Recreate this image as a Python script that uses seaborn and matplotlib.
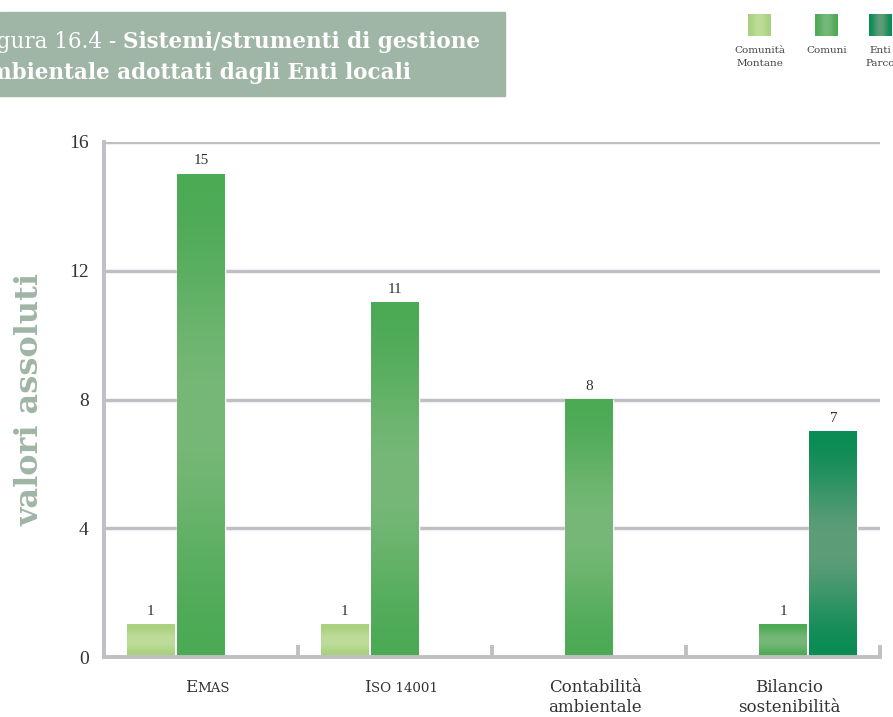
import numpy as np
import pandas as pd
import matplotlib
matplotlib.use("Agg")
import matplotlib.pyplot as plt
import seaborn as sns
from matplotlib import transforms
from matplotlib.colors import to_rgb
from matplotlib.patches import Rectangle

# ---- data -------------------------------------------------------------
categories = ["Emas", "Iso 14001", "Contabilità\nambientale", "Bilancio\nsostenibilità"]
smallcaps_labels = [True, True, False, False]
series = ["Comunità Montane", "Comuni", "Enti Parco"]
series_labels = ["Comunità\nMontane", "Comuni", "Enti\nParco"]
comunita_montane = [1, 1, 0, 0]
comuni = [15, 11, 8, 1]
enti_parco = [0, 0, 0, 7]
y_ticks = [0, 4, 8, 12, 16]

edge_colors = ["#a8d07e", "#4caa55", "#0b8c55"]
mid_colors = ["#bedc99", "#77b878", "#5f9d79"]
grid_color = "#c0c0c4"
band_color = "#9fb5a5"
text_color = "#333333"

df = pd.DataFrame({
    "categoria": categories * 3,
    "ente": np.repeat(series, len(categories)),
    "valore": comunita_montane + comuni + enti_parco,
})

# ---- figure -----------------------------------------------------------
W, H = 893, 717
sns.set_theme(style="white")
plt.rcParams["font.family"] = ["Liberation Serif", "DejaVu Serif"]

fig = plt.figure(figsize=(W / 100, H / 100), dpi=100)
ax = fig.add_axes([104 / W, 1 - 657 / H, (880 - 104) / W, (657 - 142) / H])

sns.barplot(data=df, x="categoria", y="valore", hue="ente",
            order=categories, hue_order=series, palette=edge_colors,
            saturation=1, width=0.78, gap=0.05, legend=False, ax=ax)


def gradient(c_edge, c_mid, n=200, horizontal=False):
    t = np.linspace(0, 1, n)
    w = np.sin(np.pi * t) ** 2
    e, m = np.array(to_rgb(c_edge)), np.array(to_rgb(c_mid))
    cols = e[None, :] + (m - e)[None, :] * w[:, None]
    return cols[None, :, :] if horizontal else cols[:, None, :]


# shaded fill for every bar, laid exactly over the bar rectangle
for i, container in enumerate(ax.containers):
    for bar in container:
        h = bar.get_height()
        if h <= 0:
            continue
        x, w = bar.get_x(), bar.get_width()
        ax.imshow(gradient(edge_colors[i], mid_colors[i]),
                  extent=[x, x + w, 0, h], aspect="auto",
                  interpolation="bilinear", zorder=bar.get_zorder() + 0.1)
    ax.bar_label(container,
                 labels=[f"{v:g}" if v > 0 else "" for v in container.datavalues],
                 padding=5, fontsize=11, color=text_color)

ax.set_xlim(-0.5, len(categories) - 0.5)
ax.set_ylim(0, 16)
ax.set_yticks(y_ticks)
ax.set_yticklabels([str(v) for v in y_ticks], fontsize=14, color=text_color)
ax.tick_params(axis="y", length=0, pad=11)
ax.set_xticks(range(len(categories)))
ax.set_xticklabels([""] * len(categories))
ax.set_xticks(np.arange(len(categories)) + 0.5, minor=True)
ax.tick_params(axis="x", which="major", length=0)
ax.tick_params(axis="x", which="minor", bottom=True, direction="in",
               length=9, width=2.8, color=grid_color)
ax.set_xlabel("")
ax.set_ylabel("")
ax.set_axisbelow(True)
ax.yaxis.grid(True, color=grid_color, linewidth=2.5)
ax.xaxis.grid(False)
for side in ["top", "right"]:
    ax.spines[side].set_visible(False)
for side in ["left", "bottom"]:
    ax.spines[side].set_color(grid_color)
    ax.spines[side].set_linewidth(2.8)

renderer = fig.canvas.get_renderer()
ident = transforms.IdentityTransform()


def run_split(line, smallcaps):
    runs = []
    for ch in line:
        small = smallcaps and (ch.islower() or ch.isdigit() or ch == " ")
        if runs and runs[-1][1] == small:
            runs[-1][0] += ch
        else:
            runs.append([ch, small])
    return runs


def draw_label(xc, y_base_px, text, smallcaps, size=12, line_gap=20):
    for k, line in enumerate(text.split("\n")):
        y = H - (y_base_px + k * line_gap)
        pieces = []
        for s, small in run_split(line, smallcaps):
            t = fig.text(0, y, s.upper() if small else s, transform=ident,
                         fontsize=size * 0.8 if small else size,
                         family="DejaVu Serif",
                         color=text_color, va="baseline", ha="left")
            pieces.append(t)
        widths = [p.get_window_extent(renderer).width for p in pieces]
        x = xc - sum(widths) / 2
        for p, wd in zip(pieces, widths):
            p.set_x(x)
            x += wd


for i, (lab, sc) in enumerate(zip(categories, smallcaps_labels)):
    xc = ax.transData.transform((i, 0))[0] + 6
    draw_label(xc, 692, lab, sc)

# ---- y-axis title -----------------------------------------------------
fig.text(30 / W, 1 - 400 / H, "valori assoluti", rotation=90,
         fontsize=23, fontweight="bold", family="DejaVu Serif",
         color=band_color, ha="center", va="center")

# ---- title band -------------------------------------------------------
fig.add_artist(Rectangle((0, 1 - 96 / H), 505 / W, 84 / H,
                         transform=fig.transFigure, color=band_color, zorder=0))
x0 = -25
t1 = fig.text(x0, H - 48, "Figura 16.4 - ", transform=ident, fontsize=15.5,
              family="DejaVu Serif", color="white", va="baseline")
w1 = t1.get_window_extent(renderer).width
fig.text(x0 + w1, H - 48, "Sistemi/strumenti di gestione", transform=ident,
         fontsize=15.5, fontweight="bold", family="DejaVu Serif",
         color="white", va="baseline")
fig.text(x0, H - 79, "ambientale adottati dagli Enti locali", transform=ident,
         fontsize=15.5, fontweight="bold", family="DejaVu Serif",
         color="white", va="baseline")

# ---- legend -----------------------------------------------------------
swatch_x = [748, 815, 869]
for i, (sx, lab) in enumerate(zip(swatch_x, series_labels)):
    sax = fig.add_axes([sx / W, 1 - 36 / H, 23 / W, 22 / H])
    sax.imshow(gradient(edge_colors[i], mid_colors[i], horizontal=True),
               aspect="auto", interpolation="bilinear")
    sax.axis("off")
    fig.text((sx + 11.5) / W, 1 - 46 / H, lab, fontsize=7.5,
             family="DejaVu Serif", color="#444444",
             ha="center", va="top", linespacing=1.6)

fig.savefig("out.png", dpi=100)
